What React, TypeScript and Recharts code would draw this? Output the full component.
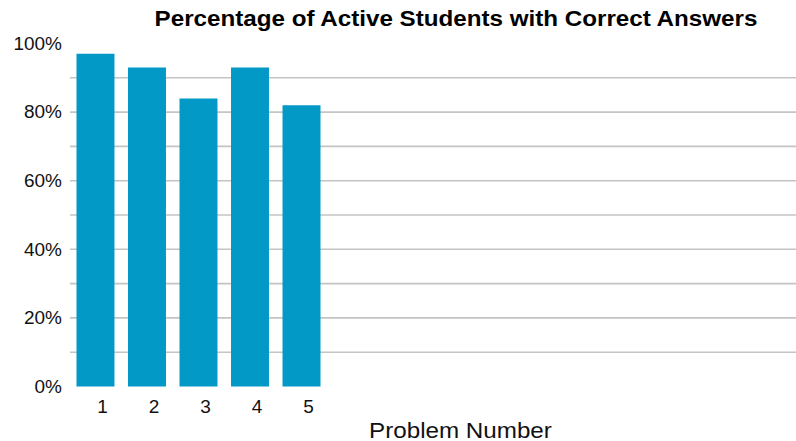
import React from "react";
import {Bar, BarChart, CartesianGrid, XAxis, YAxis} from "recharts";

// problems that have results, and the share of active students who got each right (%)
const problemLabels = ["1", "2", "3", "4", "5"];
const correctShare = [97, 93, 84, 93, 82];
// the axis is laid out for a longer quiz, so there are empty slots after the answered ones
const axisSlots = 14;

const yTicks = [0, 20, 40, 60, 80, 100];
const gridLevels = [10, 20, 30, 40, 50, 60, 70, 80, 90];

const data = Array.from({length: axisSlots}, (_, i) => ({
    slot: i,
    value: i < correctShare.length ? correctShare[i] : null,
}));

// glyphs in this chart are drawn a little wide, so the whole svg is stretched sideways
const stretch = 1.085;
const W = 796 / stretch;
const H = 441;
const font = '"Liberation Sans", Arial, sans-serif';

export default function App() {
    return (
        <div style={{position: "absolute", left: 0, top: 0, width: 796, height: H, overflow: "hidden", background: "#fff"}}>
            <div style={{transform: `scaleX(${stretch})`, transformOrigin: "0 0", width: W}}>
                <BarChart width={W} height={H} data={data} margin={{top: 43.5, right: 0, bottom: 0, left: 0}}
                          barSize={35}>
                    <CartesianGrid vertical={false} horizontalValues={gridLevels} stroke="#c4c4c4" strokeWidth={1.6}/>
                    <XAxis dataKey="slot" type="category" height={54.5} axisLine={false} tickLine={false}
                           tickSize={0} tickMargin={14} interval={0} padding={{left: 0, right: 4.5}}
                           tickFormatter={(i: number) => problemLabels[i] ?? ""}
                           tick={{fill: "#111", fontSize: 17.5, fontFamily: font, dx: 6.3}}/>
                    <YAxis type="number" domain={[0, 100]} ticks={yTicks} width={64.5} axisLine={false}
                           tickLine={false} tickSize={0} tickMargin={7.4}
                           tickFormatter={(v: number) => `${v}%`}
                           tick={{fill: "#111", fontSize: 17.5, fontFamily: font}}/>
                    <Bar dataKey="value" fill="#0399c6" isAnimationActive={false}/>
                    <text x={420.3} y={26} textAnchor="middle" fontFamily={font} fontWeight="bold" fontSize={22.3}
                          fill="#000">
                        Percentage of Active Students with Correct Answers
                    </text>
                    <text x={424.4} y={437.7} textAnchor="middle" fontFamily={font} fontSize={22.3} fill="#111">
                        Problem Number
                    </text>
                </BarChart>
            </div>
        </div>
    );
}
